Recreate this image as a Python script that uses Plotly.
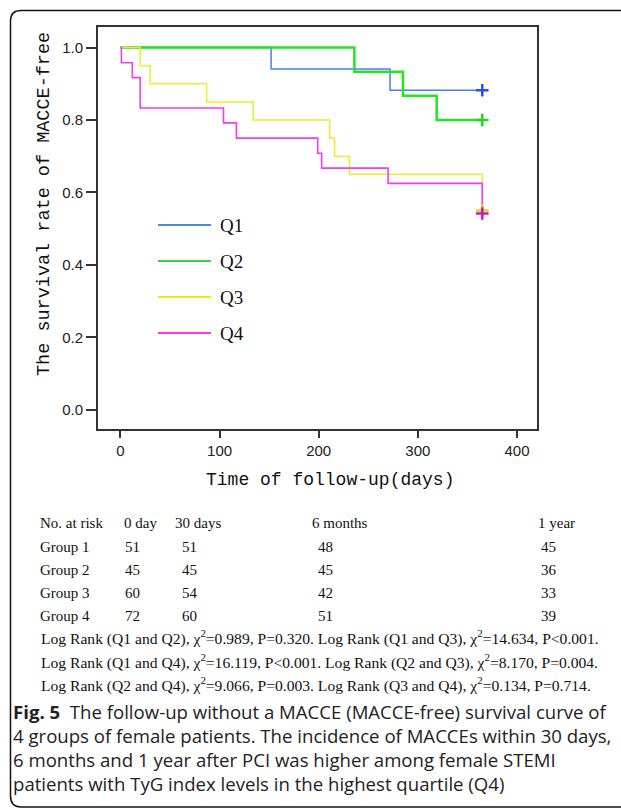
import plotly.graph_objects as go

# ---------------- data ----------------
groups = ["Q1", "Q2", "Q3", "Q4"]
q1_t = [0, 152, 272, 365]
q1_s = [1.0, 0.941, 0.882, 0.882]
q2_t = [0, 236, 285, 319, 365]
q2_s = [1.0, 0.933, 0.867, 0.800, 0.800]
q3_t = [0, 20, 30, 87, 134, 211, 216, 231, 365]
q3_s = [1.0, 0.950, 0.900, 0.850, 0.800, 0.750, 0.700, 0.650, 0.550]
q4_t = [0, 1, 12, 20, 104, 117, 199, 203, 270, 365]
q4_s = [1.0, 0.958, 0.917, 0.833, 0.792, 0.750, 0.708, 0.667, 0.625, 0.542]
censor_t = [365, 365, 365, 365]
censor_s = [0.882, 0.800, 0.550, 0.542]

x_ticks = [0, 100, 200, 300, 400]
y_ticks = [0.0, 0.2, 0.4, 0.6, 0.8, 1.0]
y_ticklabels = ["0.0", "0.2", "0.4", "0.6", "0.8", "1.0"]

risk_header = ["No. at risk", "0 day", "30 days", "6 months", "1 year"]
risk_groups = ["Group 1", "Group 2", "Group 3", "Group 4"]
risk_0d = [51, 45, 60, 72]
risk_30d = [51, 45, 54, 60]
risk_6m = [48, 45, 42, 51]
risk_1y = [45, 36, 33, 39]

lr_pairs = [("Q1", "Q2"), ("Q1", "Q3"), ("Q1", "Q4"), ("Q2", "Q3"), ("Q2", "Q4"), ("Q3", "Q4")]
lr_chi2 = ["0.989", "14.634", "16.119", "8.170", "9.066", "0.134"]
lr_p = ["P=0.320", "P<0.001", "P<0.001", "P=0.004", "P=0.003", "P=0.714"]

caption_bold = "Fig. 5"
caption_lines = [
    "  The follow-up without a MACCE (MACCE-free) survival curve of",
    "4 groups of female patients. The incidence of MACCEs within 30 days,",
    "6 months and 1 year after PCI was higher among female STEMI",
    "patients with TyG index levels in the highest quartile (Q4)",
]

# ---------------- styles ----------------
colors = ["#4a7cf5", "#22e622", "#eded2a", "#f23cf0"]
legend_colors = ["#4a88f0", "#3ccf3c", "#f0ea10", "#ff38f0"]
censor_colors = ["#2a4cf5", "#22d622", "#e8d020", "#c020b0"]
widths = [1.5, 2.5, 1.5, 1.6]

W, H = 621, 810
PL, PR, PT, PB = 98, 537, 27, 429


def fx(px):
    return (px - PL) / (PR - PL)


def fy(py):
    return (PB - py) / (PB - PT)


fig = go.Figure()
series = [(q1_t, q1_s), (q2_t, q2_s), (q3_t, q3_s), (q4_t, q4_s)]
for i, (t, s) in enumerate(series):
    fig.add_trace(go.Scatter(x=t, y=s, mode="lines", line=dict(shape="hv", color=colors[i], width=widths[i]),
                             name=groups[i], showlegend=False))
for i in range(4):
    fig.add_trace(go.Scatter(x=[censor_t[i]], y=[censor_s[i]], mode="markers",
                             marker=dict(symbol="cross-thin", size=9, line=dict(width=2.5, color=censor_colors[i])),
                             showlegend=False))

shapes = []
annotations = []

# legend (drawn)
leg_y = [225, 261, 297, 333]
for i in range(4):
    shapes.append(dict(type="line", xref="paper", yref="paper", x0=fx(158), x1=fx(211), y0=fy(leg_y[i]), y1=fy(leg_y[i]),
                       line=dict(color=legend_colors[i], width=2.2)))
    annotations.append(dict(xref="paper", yref="paper", x=fx(218), y=fy(leg_y[i]), text=groups[i], showarrow=False,
                            xanchor="left", yanchor="middle",
                            font=dict(family="Liberation Serif", size=19, color="#111")))

# axis titles
annotations.append(dict(xref="paper", yref="paper", x=fx(44), y=fy(204), text="The survival rate of MACCE-free",
                        textangle=-90, showarrow=False, xanchor="center", yanchor="middle",
                        font=dict(family="Liberation Mono", size=18.5, color="#111")))
annotations.append(dict(xref="paper", yref="paper", x=fx(330), y=fy(480), text="Time of follow-up(days)",
                        showarrow=False, xanchor="center", yanchor="middle",
                        font=dict(family="Liberation Mono", size=18, color="#111")))

# at-risk table
tfont = dict(family="Liberation Serif", size=15, color="#111")
row_y = [523, 547, 570, 593, 616]
head_x = [38, 122, 173, 310, 536]
val_x = [38, 123, 180, 316, 539]
for j, h in enumerate(risk_header):
    annotations.append(dict(xref="paper", yref="paper", x=fx(head_x[j]), y=fy(row_y[0]), text=h, showarrow=False,
                            xanchor="left", yanchor="middle", font=tfont))
cols = [risk_groups, risk_0d, risk_30d, risk_6m, risk_1y]
for r in range(4):
    for j, col in enumerate(cols):
        annotations.append(dict(xref="paper", yref="paper", x=fx(val_x[j]), y=fy(row_y[r + 1]), text=str(col[r]),
                                showarrow=False, xanchor="left", yanchor="middle", font=tfont))

# log rank lines
lrfont = dict(family="Liberation Serif", size=15.6, color="#111")
lr_y = [637, 661, 684]
for k in range(3):
    parts = []
    for m in (2 * k, 2 * k + 1):
        a, b = lr_pairs[m]
        parts.append("Log Rank (%s and %s), \u03c7<sup>2</sup>=%s, %s." % (a, b, lr_chi2[m], lr_p[m]))
    annotations.append(dict(xref="paper", yref="paper", x=fx(39), y=fy(lr_y[k]), text=" ".join(parts), showarrow=False,
                            xanchor="left", yanchor="middle", font=lrfont))

# caption
cfont = dict(family="Open Sans", size=18.6, color="#222")
cap_y = [711, 735, 759, 783]
annotations.append(dict(xref="paper", yref="paper", x=fx(11), y=fy(cap_y[0]),
                        text="<b>%s</b>%s" % (caption_bold, caption_lines[0]), showarrow=False,
                        xanchor="left", yanchor="middle", font=cfont))
for k in range(1, 4):
    annotations.append(dict(xref="paper", yref="paper", x=fx(11), y=fy(cap_y[k]), text=caption_lines[k],
                            showarrow=False, xanchor="left", yanchor="middle", font=cfont))

# outer rounded border
def P(px, py):
    return "%f,%f" % (fx(px), fy(py))

path = "M%s L%s Q%s %s L%s Q%s %s L%s" % (P(640, 807), P(21, 807), P(10.5, 807), P(10.5, 796), P(10.5, 21),
                                         P(10.5, 10.5), P(21, 10.5), P(640, 10.5))
shapes.append(dict(type="path", xref="paper", yref="paper", path=path, line=dict(color="#111", width=1.5)))

fig.update_layout(
    width=W, height=H,
    margin=dict(l=PL, r=W - PR, t=PT, b=H - PB, pad=0),
    paper_bgcolor="white", plot_bgcolor="white",
    shapes=shapes, annotations=annotations, showlegend=False,
)
fig.update_xaxes(range=[-22.6, 420.2], tickvals=x_ticks, ticktext=[str(v) for v in x_ticks], showgrid=False,
                 zeroline=False, showline=True, linecolor="#333", linewidth=2, mirror=True,
                 ticks="outside", ticklen=7, tickwidth=2, tickcolor="#333",
                 tickfont=dict(family="Liberation Sans", size=15, color="#222"))
fig.update_yaxes(range=[-0.0532, 1.0568], tickvals=y_ticks, ticktext=y_ticklabels, showgrid=False,
                 zeroline=False, showline=True, linecolor="#333", linewidth=2, mirror=True,
                 ticks="outside", ticklen=10, tickwidth=2, tickcolor="#333",
                 tickfont=dict(family="Liberation Sans", size=15, color="#222"))

fig.write_html("out.html")
